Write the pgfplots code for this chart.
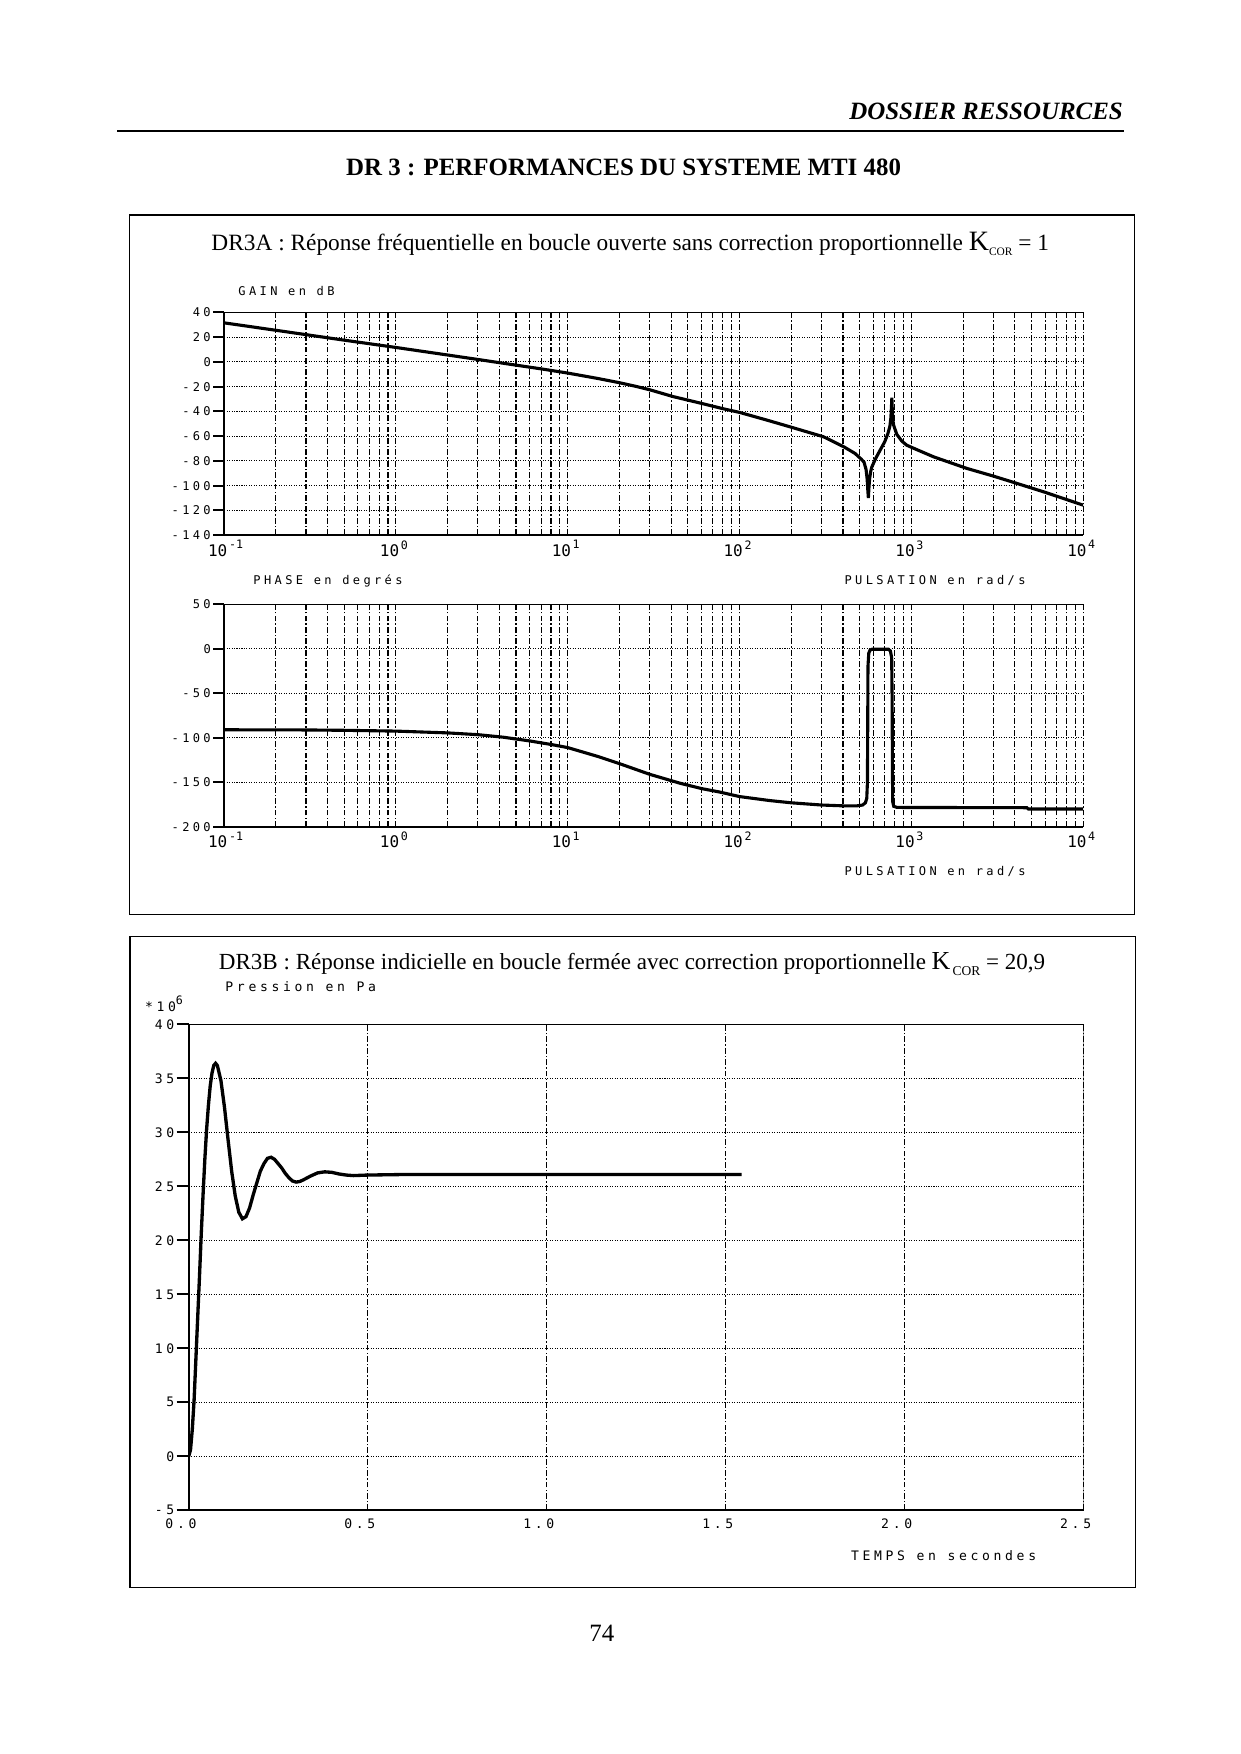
\documentclass[border=0pt]{standalone}
\usepackage{fontspec}
\setmainfont{Liberation Serif}
\newfontfamily\pf[LetterSpace=28]{DejaVu Sans Mono}
\newfontfamily\pfn{DejaVu Sans Mono}
\usepackage{pgfplots}
\pgfplotsset{compat=1.18}
\newcommand\pfa{\pf\fontsize{5.8}{6}\selectfont}
\newcommand\pfb{\pf\fontsize{6.3}{7}\selectfont}
\newcommand\pfx{\pfn\fontsize{7.7}{8}\selectfont}
\newcommand\dec[1]{\makebox[0pt][r]{10\kern-1.6pt}\makebox[0pt][l]{\kern2.4pt\raisebox{3.4pt}{\pfn\fontsize{5.6}{6}\selectfont #1}}}
\begin{document}
\begin{tikzpicture}
\fill[white] (0,0) rectangle (210mm,-297mm);
\path[use as bounding box] (0,0) rectangle (210mm,-297mm);

% ---------- GAIN ----------
\begin{axis}[at={(37.936mm,-90.605mm)}, anchor=south west,
    scale only axis, width=145.48mm, height=37.7mm,
    xmode=log, xmin=0.1, xmax=10000,
    xtick={0.1,1,10,100,1000,10000},
    xticklabels={\dec{-1},\dec{0},\dec{1},\dec{2},\dec{3},\dec{4}},
    grid=both,
    axis x line*=bottom, axis y line*=left,
    axis line style={-, line width=1pt, black},
    tick align=outside, major tick length=5.2pt, minor tick length=0pt,
    xtick style={draw=none}, ytick style={line width=1pt, black},
    x grid style={black, line width=0.55pt, dash pattern=on 2.8pt off 1pt on 0.7pt off 1pt},
    y grid style={black, line width=0.45pt, dash pattern=on 0.5pt off 0.7pt},
    xticklabel style={font=\pfx, anchor=north, inner sep=0pt, yshift=2.8pt},
    yticklabel style={font=\pfa, anchor=east, inner sep=0pt, xshift=-1pt},
  ymin=-140, ymax=40,
  ytick={-140,-120,-100,-80,-60,-40,-20,0,20,40},
  yticklabels={-140,-120,-100,-80,-60,-40,-20,0,20,40}]
\addplot[black, line width=1.5pt] coordinates {
(0.1,31.6) (0.2,25.6) (0.5,17.6) (1,11.7) (2,5.6) (3,2.0) (5,-2.6) (7,-5.6)
(10,-9.0) (15,-13.4) (20,-16.8) (25,-19.8) (30,-22.5) (41,-28.0) (60,-33.5)
(80,-37.8) (100,-40.8) (144,-47) (197,-52.5) (308,-60.5) (403,-68.5) (470,-74)
(510,-78.5) (530,-81) (545,-87) (553,-95) (558,-104) (562,-110) (566,-102)
(572,-94) (580,-88.5) (589,-84.8) (620,-78) (660,-71) (700,-64.5) (730,-58)
(750,-52) (760,-45) (766,-36) (770,-29) (774,-38) (780,-47) (790,-51.5)
(822,-58.5) (880,-64) (939,-67.3) (1100,-71.5) (1345,-76.7) (2104,-86.1)
(3000,-92.3) (4110,-98.2) (6000,-105.4) (10000,-115.8)};
\draw[line width=1pt] (rel axis cs:0,1) -- (rel axis cs:1,1);
\end{axis}

% ---------- PHASE ----------
\begin{axis}[at={(37.936mm,-140.006mm)}, anchor=south west,
    scale only axis, width=145.48mm, height=37.7mm,
    xmode=log, xmin=0.1, xmax=10000,
    xtick={0.1,1,10,100,1000,10000},
    xticklabels={\dec{-1},\dec{0},\dec{1},\dec{2},\dec{3},\dec{4}},
    grid=both,
    axis x line*=bottom, axis y line*=left,
    axis line style={-, line width=1pt, black},
    tick align=outside, major tick length=5.2pt, minor tick length=0pt,
    xtick style={draw=none}, ytick style={line width=1pt, black},
    x grid style={black, line width=0.55pt, dash pattern=on 2.8pt off 1pt on 0.7pt off 1pt},
    y grid style={black, line width=0.45pt, dash pattern=on 0.5pt off 0.7pt},
    xticklabel style={font=\pfx, anchor=north, inner sep=0pt, yshift=2.8pt},
    yticklabel style={font=\pfa, anchor=east, inner sep=0pt, xshift=-1pt},
  ymin=-200, ymax=50,
  ytick={-200,-150,-100,-50,0,50},
  yticklabels={-200,-150,-100,-50,0,50}]
\addplot[black, line width=1.5pt] coordinates {
(0.1,-91) (0.3,-91.2) (0.5,-91.6) (1,-92.5) (2,-94.5) (3,-96.5) (4.2,-99.3)
(6,-103.5) (8,-107.5) (10,-111) (15,-121) (20,-129) (30,-141) (45,-151)
(60,-157) (77,-161) (100,-166) (150,-170.5) (200,-173) (300,-175.5)
(400,-176.4) (480,-176.5) (520,-175.5) (540,-173) (550,-168) (555,-150)
(557,-90) (559,-20) (565,-5) (575,-1.5) (590,-0.6) (735,-0.6) (755,-2.5)
(768,-10) (773,-60) (776,-140) (779,-172) (790,-177) (826,-178.2)
(4700,-178.5) (4800,-180) (10000,-180)};
\draw[line width=1pt] (rel axis cs:0,1) -- (rel axis cs:1,1);
\end{axis}

% ---------- STEP RESPONSE ----------
\begin{axis}[at={(31.957mm,-255.726mm)}, anchor=south west,
  scale only axis, width=151.5mm, height=82.26mm,
  xmin=0, xmax=2.5, ymin=-5, ymax=40,
  xtick={0,0.5,1,1.5,2,2.5},
  xticklabels={0.0,0.5,1.0,1.5,2.0,2.5},
  ytick={-5,0,5,10,15,20,25,30,35,40},
  yticklabels={-5,0,5,10,15,20,25,30,35,40},
  grid=major,
  axis x line*=bottom, axis y line*=left,
  axis line style={-, line width=0.9pt, black},
  tick align=outside, major tick length=5.8pt,
  xtick style={draw=none}, ytick style={line width=1pt, black},
  x grid style={black, line width=0.55pt, dash pattern=on 2.8pt off 1pt on 0.7pt off 1pt},
  y grid style={black, line width=0.45pt, dash pattern=on 0.5pt off 0.7pt},
  xticklabel style={font=\pfb, anchor=north east, inner sep=0pt, yshift=1.9pt, xshift=3.9pt},
  yticklabel style={font=\pfb, anchor=east, inner sep=0pt, xshift=-1pt}]
\addplot[black, line width=1.6pt] coordinates {
(0,0) (0.005,0.6) (0.01,2.5) (0.015,5.2) (0.02,9) (0.025,12.8) (0.03,16.6)
(0.035,20.6) (0.04,24.2) (0.045,27.5) (0.05,30.3) (0.055,32.5) (0.06,34.3)
(0.065,35.5) (0.07,36.2) (0.075,36.4) (0.08,36.2) (0.09,34.8) (0.10,32.3)
(0.11,29.3) (0.12,26.4) (0.13,24.1) (0.14,22.6) (0.15,22.0) (0.16,22.2)
(0.17,23.0) (0.18,24.2) (0.19,25.3) (0.20,26.4) (0.21,27.1) (0.22,27.6)
(0.23,27.7) (0.24,27.5) (0.25,27.1) (0.26,26.7) (0.27,26.2) (0.28,25.8)
(0.29,25.5) (0.30,25.4) (0.31,25.45) (0.32,25.6) (0.34,25.95) (0.36,26.25)
(0.38,26.35) (0.40,26.3) (0.42,26.15) (0.44,26.05) (0.46,26.0) (0.5,26.05)
(0.6,26.1) (0.8,26.1) (1.0,26.1) (1.2,26.1) (1.4,26.1) (1.545,26.1)};
\draw[line width=1pt] (rel axis cs:0,1) -- (rel axis cs:1,1);
\draw[line width=0.5pt] (rel axis cs:1,0) -- (rel axis cs:1,1);
\end{axis}

% ---------- PAGE TEXT ----------
\begin{scope}[x=0.169355mm, y=-0.169355mm]
\node[anchor=base east, inner sep=0pt, font=\bfseries\itshape\fontsize{12}{14}\selectfont] at (1123,119) {DOSSIER RESSOURCES};
\draw[line width=0.8pt] (117,131) -- (1124,131);
\node[anchor=base, inner sep=0pt, font=\bfseries\fontsize{12}{14}\selectfont] at (623.5,175.5) {DR 3 : PERFORMANCES DU SYSTEME MTI 480};
\draw[line width=0.6pt] (129.6,215) rectangle (1134,914);
\draw[line width=0.6pt] (130,936.5) rectangle (1135,1587.5);
\node[anchor=base west, inner sep=0pt, font=\fontsize{11.25}{13}\selectfont] at (211,250) {DR3A : Réponse fréquentielle en boucle ouverte sans correction proportionnelle {\fontsize{13.5}{14}\selectfont K}\raisebox{-0.5ex}{\fontsize{5.5}{6}\selectfont COR} = 1};
\node[anchor=west, inner sep=0pt] at (238,290.5) {\pfa GAIN en dB};
\node[anchor=west, inner sep=0pt] at (253,580.5) {\pfa PHASE en degrés};
\node[anchor=west, inner sep=0pt] at (844,580.5) {\pfa PULSATION en rad/s};
\node[anchor=west, inner sep=0pt] at (844,871.5) {\pfa PULSATION en rad/s};
\node[anchor=base west, inner sep=0pt, font=\fontsize{11.1}{13}\selectfont] at (218.5,969) {DR3B : Réponse indicielle en boucle fermée avec correction proportionnelle {\fontsize{12.5}{14}\selectfont K}\raisebox{-0.6ex}{\fontsize{6.5}{7}\selectfont\,COR} = 20,9};
\node[anchor=west, inner sep=0pt] at (225,986) {\pfb Pression en Pa};
\node[anchor=west, inner sep=0pt] at (144.6,1004) {\pfb *10\raisebox{3.4pt}{\pfn\fontsize{5.6}{6}\selectfont 6}};
\node[anchor=west, inner sep=0pt] at (850.5,1555) {\pfb TEMPS en secondes};
\node[anchor=base, inner sep=0pt, font=\fontsize{12}{14}\selectfont] at (601.8,1641.7) {74};
\end{scope}
\end{tikzpicture}
\end{document}
